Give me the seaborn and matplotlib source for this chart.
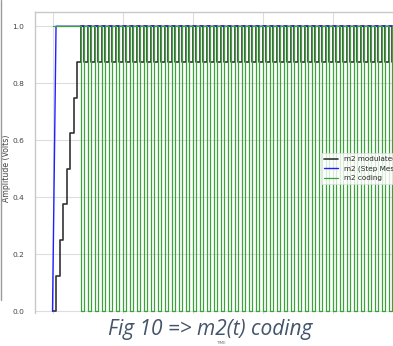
import numpy as np
import pandas as pd
import seaborn as sns
import matplotlib
matplotlib.use("Agg")
import matplotlib.pyplot as plt
from matplotlib.patches import Rectangle
from matplotlib.lines import Line2D

# Delta-modulation of a unit step message, one sample per time unit
t = list(range(101))

# step message m2(t): 0 at the first sample, 1 afterwards
step_message = [0] + [1] * 100

# coded bit stream (1 = step up, 0 = step down)
coding_bits = (
    "11111111"
    "0101010101" "0101010101" "0101010101" "0101010101" "0101010101"
    "0101010101" "0101010101" "0101010101" "0101010101" "010"
)

# staircase approximation, in eighths of a volt
modulated_eighths = (
    "012345678"
    "7878787878" "7878787878" "7878787878" "7878787878" "7878787878"
    "7878787878" "7878787878" "7878787878" "7878787878" "78"
)

coding = [int(c) for c in coding_bits]
modulated = [int(c) / 8 for c in modulated_eighths]

df = pd.DataFrame({"t": t, "step": step_message, "coding": coding, "mod": modulated})

sns.set_theme(style="whitegrid")
plt.rcParams["font.family"] = ["DejaVu Sans"]

W, H = 393, 346
fig = plt.figure(figsize=(W / 100, H / 100), dpi=100)
ax_left, ax_top, ax_right, ax_bottom = 35, 12, 420.5, 325.5
ax = fig.add_axes([ax_left / W, 1 - ax_bottom / H,
                   (ax_right - ax_left) / W, (ax_bottom - ax_top) / H])

sns.lineplot(data=df, x="t", y="mod", ax=ax, color="#333333", lw=1.2,
             drawstyle="steps-post", estimator=None, label="m2 modulated")
sns.lineplot(data=df, x="t", y="step", ax=ax, color="#1f1fff", lw=1.0,
             estimator=None, label="m2 (Step Message)")
sns.lineplot(data=df, x="t", y="coding", ax=ax, color="#3aa33a", lw=0.9,
             drawstyle="steps-post", estimator=None, label="m2 coding")

ax.set_xlim(-5, 105)
ax.set_ylim(-0.05, 1.05)
ax.set_xticks([0, 20, 40, 60, 80, 100])
ax.set_xticklabels([])
ax.set_yticks([0.0, 0.2, 0.4, 0.6, 0.8, 1.0])
ax.set_yticklabels(["0.0", "0.2", "0.4", "0.6", "0.8", "1.0"])
ax.tick_params(axis="both", labelsize=5.4, labelcolor="#444444", pad=2)
ax.set_xlabel("")
ax.set_ylabel("Amplitude (Volts)", fontsize=5.6, color="#444444", labelpad=1)
for s in ax.spines.values():
    s.set_color("#c8c8c8")
    s.set_linewidth(1.0)
ax.grid(color="#dddddd", lw=0.8)

leg = ax.legend(loc="center right", fontsize=5.2, handlelength=2.0,
                borderaxespad=0.5, labelspacing=0.45, frameon=True)
leg.get_frame().set_edgecolor("#dddddd")
leg.get_frame().set_linewidth(0.6)

# caption strip below the plot
fig.add_artist(Rectangle((0, 0), 1, 1 - 314 / H, transform=fig.transFigure,
                         facecolor="white", edgecolor="none", zorder=5))
fig.text(210 / W, 1 - 335 / H, "Fig 10 => m2(t) coding", ha="center",
         va="baseline", fontsize=15, style="italic", color="#44546a",
         family=["Open Sans", "DejaVu Sans"], zorder=6)
fig.text(221 / W, 1 - 343 / H, "TIME", ha="center", va="center",
         fontsize=3, color="#777777", zorder=6)
fig.add_artist(Line2D([1.0 / W, 1.0 / W], [1, 1 - 300 / H],
                      transform=fig.transFigure, color="#9a9a9a", lw=1.0))

fig.savefig("out.png", dpi=100)
